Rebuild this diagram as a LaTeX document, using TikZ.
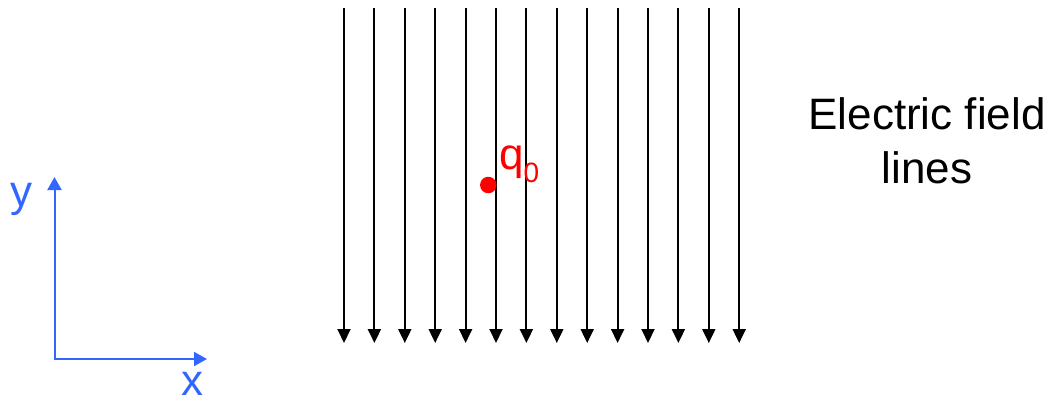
\documentclass[tikz,border=0pt]{standalone}
\usepackage{fontspec}
\setmainfont{Liberation Sans}
\usetikzlibrary{arrows.meta, positioning}
\definecolor{axisblue}{RGB}{51, 102, 255}
\definecolor{chargered}{RGB}{255, 0, 0}
\tikzset{
  fieldline/.style={line width=2pt, draw=black,
    -{Triangle[length=14pt, width=13pt]}},
  axis/.style={line width=2pt, draw=axisblue,
    {Triangle[length=13pt, width=14pt]}-{Triangle[length=13pt, width=14pt]}},
  axislabel/.style={text=axisblue, inner sep=0pt, anchor=base,
    font=\fontsize{44}{44}\selectfont},
  charge/.style={circle, fill=chargered, inner sep=0pt, minimum size=16.5pt},
  chargelabel/.style={text=chargered, inner sep=0pt, anchor=base west,
    font=\fontsize{44}{44}\selectfont},
  caption/.style={align=center, inner sep=0pt, anchor=base,
    font=\fontsize{44}{54}\selectfont}
}
\begin{document}
\begin{tikzpicture}[x=1pt, y=-1pt]
\useasboundingbox (0,0) rectangle (1048,401);
% field lines
\foreach \i in {0,...,13}
  \draw[fieldline] (344+30.4*\i, 8) -- (344+30.4*\i, 343);
% axes
\coordinate (origin) at (54.5,359);
\coordinate (ytip)   at (54.5,177);
\coordinate (xtip)   at (207,359);
\draw[axis] (ytip) -- (origin) -- (xtip);
\node (ylabel) [axislabel] at (21,206) {y};
\node (xlabel) [axislabel] at (192.5,395) {x};
% test charge
\node (q0) [charge] at (488.3,185) {};
\node (q0label) [chargelabel] at (499,169)
  {q\raisebox{-13pt}{\fontsize{28}{28}\selectfont 0}};
\node (fieldtext) [caption] at (927,183) {Electric field\hspace{12pt}\\lines};
\end{tikzpicture}
\end{document}
